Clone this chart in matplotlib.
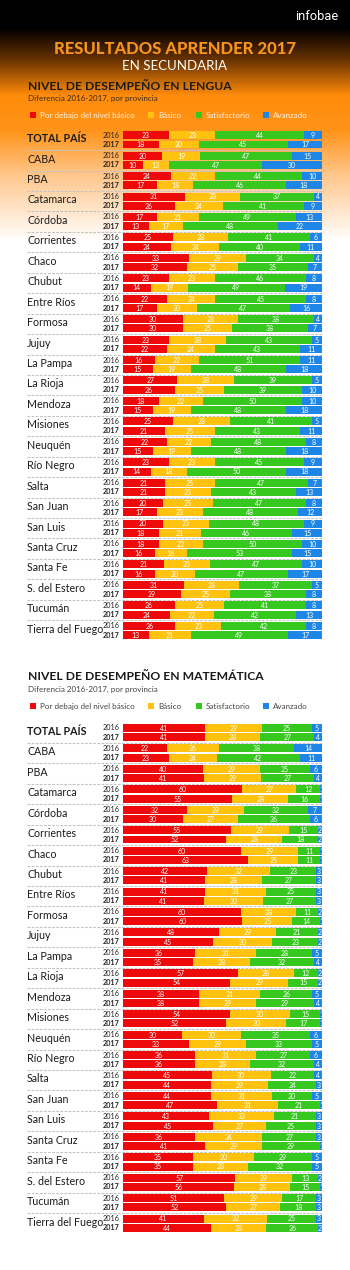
import numpy as np
import matplotlib
matplotlib.use("Agg")
import matplotlib.pyplot as plt
from matplotlib.patches import Rectangle

plt.rcParams['font.family'] = ['Lato', 'DejaVu Sans']

provinces = ["TOTAL PAÍS", "CABA", "PBA", "Catamarca", "Córdoba", "Corrientes", "Chaco",
             "Chubut", "Entre Ríos", "Formosa", "Jujuy", "La Pampa", "La Rioja", "Mendoza",
             "Misiones", "Neuquén", "Río Negro", "Salta", "San Juan", "San Luis",
             "Santa Cruz", "Santa Fe", "S. del Estero", "Tucumán", "Tierra del Fuego"]
years = ["2016", "2017"]
levels = ["Por debajo del nivel básico", "Básico", "Satisfactorio", "Avanzado"]

lengua_2016 = [
    [23, 23, 44, 9], [20, 19, 47, 15], [24, 22, 44, 10], [31, 28, 37, 4], [17, 21, 49, 13],
    [25, 28, 41, 6], [33, 29, 34, 4], [23, 23, 46, 8], [22, 24, 45, 8], [30, 28, 38, 4],
    [23, 28, 43, 5], [16, 22, 51, 11], [27, 28, 39, 5], [18, 22, 50, 10], [25, 28, 41, 5],
    [22, 22, 48, 8], [23, 23, 45, 9], [21, 25, 47, 7], [20, 25, 47, 8], [20, 23, 48, 9],
    [18, 22, 50, 10], [21, 23, 47, 10], [31, 28, 37, 5], [26, 25, 41, 8], [26, 23, 42, 8]]
lengua_2017 = [
    [18, 20, 45, 17], [10, 13, 47, 30], [17, 18, 46, 18], [26, 24, 41, 9], [13, 17, 48, 22],
    [24, 24, 40, 11], [32, 25, 35, 7], [14, 19, 49, 19], [17, 20, 47, 16], [30, 25, 38, 7],
    [22, 24, 43, 11], [15, 19, 48, 18], [26, 25, 39, 10], [15, 19, 48, 18], [21, 25, 43, 11],
    [15, 19, 48, 18], [14, 18, 50, 18], [21, 23, 43, 13], [17, 23, 48, 12], [18, 21, 46, 15],
    [16, 16, 53, 15], [16, 20, 47, 17], [29, 25, 38, 8], [24, 22, 42, 13], [13, 21, 49, 17]]
mate_2016 = [
    [41, 29, 25, 5], [22, 26, 38, 14], [40, 29, 25, 6], [60, 27, 12, 1], [32, 29, 32, 7],
    [55, 29, 15, 2], [60, 29, 11, 1], [42, 32, 23, 3], [41, 31, 25, 3], [60, 28, 11, 2],
    [48, 29, 21, 2], [36, 31, 28, 5], [57, 28, 12, 2], [38, 31, 26, 5], [54, 30, 15, 1],
    [30, 30, 35, 6], [36, 31, 27, 6], [45, 30, 22, 4], [44, 31, 20, 5], [43, 33, 21, 3],
    [36, 34, 27, 3], [35, 30, 29, 5], [57, 29, 13, 2], [51, 29, 17, 3], [41, 32, 25, 3]]
mate_2017 = [
    [41, 28, 27, 4], [23, 24, 42, 11], [41, 29, 27, 4], [55, 28, 16, 1], [30, 27, 36, 6],
    [52, 28, 18, 2], [63, 25, 11, 1], [41, 28, 27, 3], [41, 30, 27, 3], [60, 25, 14, 1],
    [45, 30, 23, 2], [35, 28, 32, 4], [54, 29, 15, 2], [38, 29, 29, 4], [52, 30, 17, 1],
    [33, 29, 33, 5], [36, 28, 32, 4], [44, 29, 24, 3], [47, 31, 21, 1], [45, 27, 25, 3],
    [41, 29, 29, 1], [35, 28, 32, 5], [56, 28, 15, 1], [52, 27, 18, 3], [44, 28, 26, 2]]

colors = ["#EE0A0A", "#FFC20E", "#36C81E", "#1E86E6"]

W, H = 350, 1270
fig = plt.figure(figsize=(W / 100, H / 100), dpi=100)

# background gradient
bg = fig.add_axes([0, 0, 1, 1])
ys = np.arange(H)
stops_y = [0, 28, 60, 95, 130, 175, 240, H]
stops_c = np.array([[0, 0, 0], [0, 0, 0], [0.42, 0.2, 0.0], [1.0, 0.55, 0.04],
                    [1.0, 0.58, 0.10], [1.0, 0.78, 0.55], [1, 1, 1], [1, 1, 1]])
grad = np.stack([np.interp(ys, stops_y, stops_c[:, k]) for k in range(3)], axis=1)
img = np.repeat(grad[:, None, :], 4, axis=1)
bg.imshow(img, extent=(0, W, H, 0), aspect='auto', interpolation='bilinear')
bg.set_xlim(0, W)
bg.set_ylim(H, 0)
bg.axis('off')

bg.text(317, 16, "infobae", color="white", fontsize=9.3, ha='center', va='center',
        family=['Roboto', 'DejaVu Sans'])
bg.text(175, 48.5, "RESULTADOS APRENDER 2017", color="#F7941D", fontsize=12,
        fontweight='black', ha='center', va='center')
bg.text(175, 65.5, "EN SECUNDARIA", color="white", fontsize=9.5, ha='center', va='center')


def header(y0, title, legend_color, sub_color):
    bg.text(28, y0, title, color="#1a1a1a", fontsize=8.7, fontweight='bold', ha='left', va='center')
    bg.text(28.5, y0 + 12, "Diferencia 2016-2017, por provincia", color=sub_color, fontsize=5.8,
            ha='left', va='center')
    xs = [30, 148, 196, 263]
    for x, lab, c in zip(xs, levels, colors):
        bg.add_patch(Rectangle((x, y0 + 26), 6, 6, color=c, lw=0))
        bg.text(x + 10, y0 + 29.3, lab, color=legend_color, fontsize=5.8, ha='left', va='center')


header(86, "NIVEL DE DESEMPEÑO EN LENGUA", "#FFF1E0", "#3a2a1a")
header(677, "NIVEL DE DESEMPEÑO EN MATEMÁTICA", "#444444", "#444444")

PITCH = 20.44
X0, X1 = 123, 322


def panel(c0, d16, d17):
    top_px = c0 - 12
    bot_px = c0 + 24 * PITCH + 16
    ax = fig.add_axes([0, 1 - bot_px / H, 1, (bot_px - top_px) / H])
    sc = (X1 - X0) / 100.0
    ax.set_xlim(-X0 / sc, (W - X0) / sc)
    ax.set_ylim((bot_px - c0) / PITCH, (top_px - c0) / PITCH)
    ax.axis('off')
    ax.patch.set_alpha(0)
    xname = (27 - X0) / sc
    xyear = (120 - X0) / sc
    n = len(provinces)
    for i in range(n):
        if i < n - 1:
            ax.plot([xname, 100], [i + 0.73, i + 0.73], color="#c4c4c4", lw=0.8,
                    ls=(0, (2.5, 1.2)), zorder=1)
        ax.text(xname, i + 0.17, provinces[i], fontsize=7.7,
                fontweight='bold' if i == 0 else 'normal', color="#1a1a1a",
                ha='left', va='center')
        for j, (yr, vals) in enumerate(zip(years, (d16[i], d17[i]))):
            y = i + 0.455 * j
            ax.text(xyear, y, yr, fontsize=5.2, color="#222222",
                    fontweight='bold' if j == 1 else 'normal', ha='right', va='center')
            tot = float(sum(vals))
            w = [v / tot * 100 for v in vals]
            left = 0.0
            for k in range(4):
                ax.barh(y, w[k], left=left, height=0.39, color=colors[k], lw=0, zorder=2)
                ax.text(left + w[k] / 2, y + 0.02, str(vals[k]), fontsize=5, color="white",
                        ha='center', va='center', zorder=3, clip_on=True)
                left += w[k]
    return ax


panel(135.2, lengua_2016, lengua_2017)
panel(728.0, mate_2016, mate_2017)

fig.savefig("out.png", dpi=100)
